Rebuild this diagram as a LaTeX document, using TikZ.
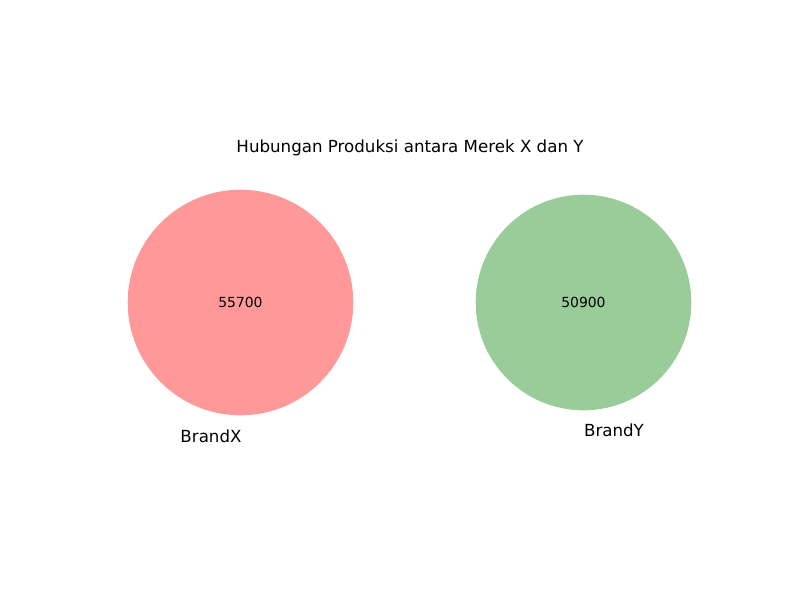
\documentclass[tikz,border=0pt]{standalone}
\usepackage{fontspec}
\setmainfont{DejaVu Sans}
\definecolor{cx}{HTML}{FF9999}
\definecolor{cy}{HTML}{99CC99}
\begin{document}
\begin{tikzpicture}[x=0.72pt,y=-0.72pt,
  setlabel/.style={font=\fontsize{12}{14}\selectfont,inner sep=0pt},
  numlabel/.style={font=\fontsize{10}{12}\selectfont,inner sep=0pt},
  titlelabel/.style={font=\fontsize{12}{14}\selectfont,inner sep=0pt}]
\useasboundingbox[fill=white] (0,0) rectangle (800,600);
\fill[cx] (240.5,302.5) circle (112.8);
\fill[cy] (583.5,302.5) circle (107.8);
\node[numlabel] (nx) at (240.5,302.5) {55700};
\node[numlabel] (ny) at (583.5,302.5) {50900};
\node[setlabel] (lx) at (211,436) {BrandX};
\node[setlabel] (ly) at (614,430) {BrandY};
\node[titlelabel] (t) at (410,148) {Hubungan Produksi antara Merek X dan Y};
\end{tikzpicture}
\end{document}
